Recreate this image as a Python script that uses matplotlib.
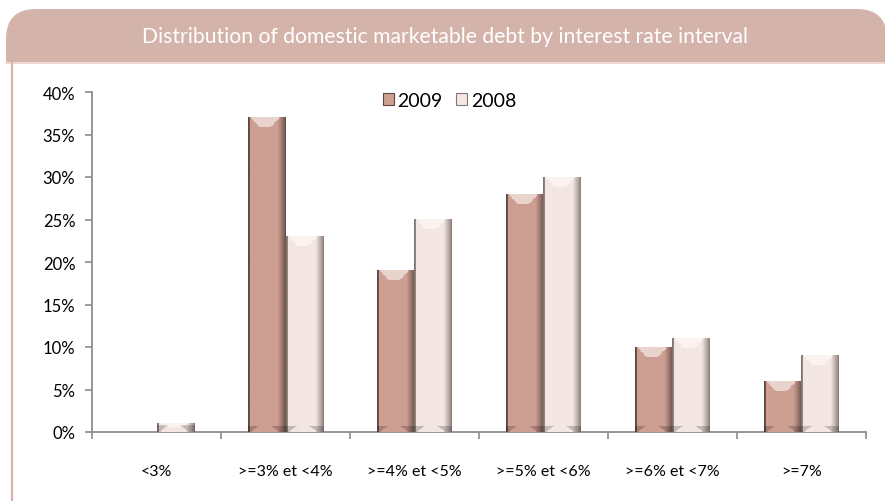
import numpy as np
import matplotlib
matplotlib.use("Agg")
import matplotlib.pyplot as plt
from matplotlib.patches import FancyBboxPatch, Rectangle
from matplotlib.lines import Line2D
from matplotlib.ticker import FixedLocator

categories = ["<3%", ">=3% et <4%", ">=4% et <5%", ">=5% et <6%", ">=6% et <7%", ">=7%"]
share_2009 = [0, 37, 19, 28, 10, 6]
share_2008 = [1, 23, 25, 30, 11, 9]
yticks = [0, 5, 10, 15, 20, 25, 30, 35, 40]
title = "Distribution of domestic marketable debt by interest rate interval"

W, H = 885, 502
PX_PER_UNIT = 340 / 40.0

col_2009 = np.array([205, 158, 146]) / 255.0
col_2008 = np.array([244, 230, 226]) / 255.0
edge_2009 = np.array([95, 72, 66]) / 255.0
edge_2008 = np.array([130, 118, 114]) / 255.0

plt.rcParams['font.family'] = ['Lato', 'DejaVu Sans']


def bevel_image(h_units, base, edge):
    ny = max(int(round(h_units * PX_PER_UNIT)), 2)
    nx = 40
    u = (np.arange(nx) + 0.5) / nx
    v = np.arange(ny) + 0.5
    # horizontal shading: dark left rim, bright body, darkening right side
    t = np.ones(nx)
    t[u < 0.06] = 0.0
    right = u > 0.78
    t[right] = 1 - (u[right] - 0.78) / 0.22
    t = np.clip(t, 0, 1) ** 0.8
    img = base[None, None, :] * t[None, :, None] + edge[None, None, :] * (1 - t[None, :, None])
    img = np.repeat(img, ny, axis=0)
    # soft light chevron on the top face
    cap = min(10.0, ny * 0.5)
    uu, vv = np.meshgrid(u, v)
    half = 0.40 - 0.25 * vv / max(cap, 1)
    top = (vv < cap) & (np.abs(uu - 0.45) < half)
    img[top] = img[top] * 0.45 + 0.55
    # darker rim at the foot of the bar
    foot = (vv > ny - 6) & ~((np.abs(uu - 0.45) < 0.38 - 0.22 * (ny - vv) / 6.0))
    img[foot] = img[foot] * 0.8
    return np.clip(img, 0, 1)


fig = plt.figure(figsize=(W / 100, H / 100), dpi=100)

# panel frame with rounded header band
bg = fig.add_axes([0, 0, 1, 1], zorder=0)
bg.set_xlim(0, W)
bg.set_ylim(H, 0)
bg.axis("off")
bg.add_patch(FancyBboxPatch((6, 10), W - 4, 120, boxstyle="round,pad=0,rounding_size=30",
                            facecolor="#d4b3aa", edgecolor="none"))
bg.add_patch(Rectangle((6, 63), W, H, facecolor="white", edgecolor="none"))
bg.add_line(Line2D([6, W], [63.5, 63.5], color="#ecd2cc", lw=1.2))
bg.add_line(Line2D([11.5, 11.5], [64, H], color="#dbb0a9", lw=1.6))
bg.text(445, 37, title, color="white", fontsize=15.2, ha="center", va="center")

ax = fig.add_axes([92 / W, 1 - 433 / H, (866 - 92) / W, 340 / H], zorder=1)
ax.patch.set_alpha(0)

x = np.arange(len(categories))
bw = 0.287
bars09 = ax.bar(x - bw / 2, share_2009, bw, color=col_2009, label="2009", zorder=2)
bars08 = ax.bar(x + bw / 2, share_2008, bw, color=col_2008, label="2008", zorder=2)

for bars, base, edge in [(bars09, col_2009, edge_2009), (bars08, col_2008, edge_2008)]:
    for r in bars:
        h = r.get_height()
        if h <= 0:
            continue
        x0 = r.get_x()
        ax.imshow(bevel_image(h, base, edge), extent=(x0, x0 + r.get_width(), 0, h),
                  aspect="auto", interpolation="bilinear", zorder=3, origin="upper")

ax.set_xlim(-0.5, len(categories) - 0.5)
ax.set_ylim(0, 40)
ax.set_yticks(yticks)
ax.set_yticklabels([f"{t}%" for t in yticks])
ax.set_xticks(x)
ax.set_xticklabels(categories)
ax.xaxis.set_minor_locator(FixedLocator(np.arange(len(categories) + 1) - 0.5))
ax.tick_params(axis="x", which="major", length=0, pad=23, labelsize=11.5, colors="black")
ax.tick_params(axis="x", which="minor", length=5, width=1.2, color="#8c8c8c", direction="out")
ax.tick_params(axis="y", length=5, width=1.2, color="#8c8c8c", labelsize=12, pad=7)

for s in ["top", "right"]:
    ax.spines[s].set_visible(False)
for s in ["left", "bottom"]:
    ax.spines[s].set_color("#8c8c8c")
    ax.spines[s].set_linewidth(1.3)

leg = ax.legend(loc="center", bbox_to_anchor=(0.462, 0.975), ncol=2, frameon=False,
                fontsize=14, handlelength=0.55, handleheight=0.55, handletextpad=0.2,
                columnspacing=0.7)
for hnd, ec in zip(leg.legend_handles, [edge_2009, edge_2008]):
    hnd.set_edgecolor(ec)
    hnd.set_linewidth(0.8)

fig.savefig("out.png", dpi=100)
